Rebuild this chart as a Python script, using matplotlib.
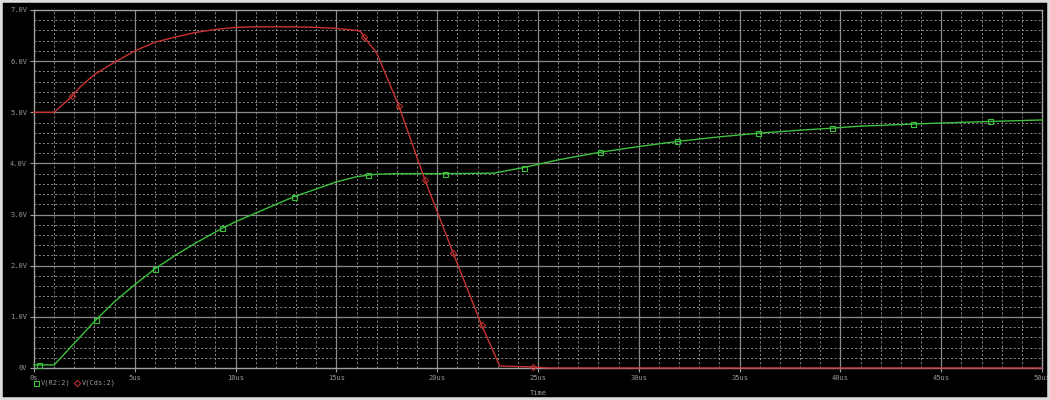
import matplotlib
matplotlib.use("Agg")
import matplotlib.pyplot as plt
from matplotlib.lines import Line2D
from matplotlib.patches import Rectangle
import numpy as np

# V(Cds:2) -- red trace
t_cds = [0, 1.0, 1.88, 2.3, 3, 4, 5, 6, 7, 8, 9, 10, 11, 12, 13, 14, 15, 16,
         16.2, 16.35, 17.0, 18.1, 19.4, 20.8, 22.2, 23.1, 24.75, 25.5, 50]
v_cds = [5.0, 5.0, 5.31, 5.5, 5.74, 5.98, 6.2, 6.37, 6.47, 6.56, 6.62, 6.66,
         6.67, 6.67, 6.67, 6.66, 6.64, 6.6, 6.58, 6.48, 6.16, 5.12, 3.67, 2.24,
         0.84, 0.04, 0.02, 0.0, 0.0]
cds_marks = [2, 19, 21, 22, 23, 24, 26]

# V(R2:2) -- green trace
t_r2 = [0, 0.25, 1.0, 3.07, 4, 5, 6.0, 7, 8, 9.33, 10, 11, 12, 12.9, 14, 15,
        16, 16.57, 17, 18, 20.4, 22.8, 24.3, 26, 28.1, 30, 31.9, 34, 35.9, 38,
        39.6, 41, 43.6, 45, 47.4, 50]
v_r2 = [0.06, 0.06, 0.06, 0.94, 1.3, 1.63, 1.94, 2.2, 2.44, 2.73, 2.86, 3.03,
        3.2, 3.35, 3.5, 3.64, 3.74, 3.77, 3.79, 3.80, 3.80, 3.81, 3.92, 4.07,
        4.22, 4.33, 4.43, 4.52, 4.59, 4.65, 4.69, 4.73, 4.77, 4.79, 4.82, 4.85]
r2_marks = [1, 3, 6, 9, 13, 17, 20, 22, 24, 26, 28, 30, 32, 34]

x_ticks = [0, 5, 10, 15, 20, 25, 30, 35, 40, 45, 50]
x_labels = ["0s", "5us", "10us", "15us", "20us", "25us", "30us", "35us",
            "40us", "45us", "50us"]
y_ticks = [0, 1, 2, 3, 4, 5, 6, 7]
y_labels = ["0V", "1.0V", "2.0V", "3.0V", "4.0V", "5.0V", "6.0V", "7.0V"]

FONT = 5.0
TXT = "#9a9a9a"

fig = plt.figure(figsize=(10.5, 4.0), dpi=100, facecolor="black")
ax = fig.add_axes([34/1050, 32/400, 1008/1050, 358/400])
ax.set_facecolor("black")

ax.set_xlim(0, 50)
ax.set_ylim(0, 7)

# grid
for xv in np.arange(1, 50, 1):
    if xv % 5 == 0:
        ax.axvline(xv, color="#8a8a8a", lw=0.9, zorder=1)
    else:
        ax.axvline(xv, color="#9c9c9c", lw=0.6, ls=(0, (2.5, 2.5)), zorder=1)
for yv in np.arange(0.2, 7.0, 0.2):
    if abs(yv - round(yv)) < 1e-6:
        ax.axhline(yv, color="#8a8a8a", lw=0.9, zorder=1)
    else:
        ax.axhline(yv, color="#9c9c9c", lw=0.6, ls=(0, (2.5, 2.5)), zorder=1)

ax.plot(t_r2, v_r2, color="#3cc23c", lw=1.0, zorder=3, clip_on=False,
        marker="s", markevery=r2_marks, markersize=3.6,
        markerfacecolor="none", markeredgecolor="#3cc23c", markeredgewidth=0.8)
ax.plot(t_cds, v_cds, color="#cc3333", lw=1.0, zorder=4, clip_on=False,
        marker="D", markevery=cds_marks, markersize=3.2,
        markerfacecolor="none", markeredgecolor="#cc3333", markeredgewidth=0.7)

for s in ax.spines.values():
    s.set_color("#a0a0a0")
    s.set_linewidth(1.0)
    s.set_zorder(2)

ax.set_xticks(x_ticks)
ax.set_xticklabels(x_labels)
ax.set_yticks(y_ticks)
ax.set_yticklabels(y_labels)
ax.tick_params(colors="#a0a0a0", labelcolor=TXT, labelsize=FONT,
               length=3, width=0.8, direction="out", pad=2)
for lab in ax.get_xticklabels() + ax.get_yticklabels():
    lab.set_family("DejaVu Sans Mono")

# legend below
fig.add_artist(Line2D([35.5/1050], [1 - 383/400], marker="s", markersize=3.6,
                      markerfacecolor="none", markeredgecolor="#3cc23c",
                      markeredgewidth=0.8, transform=fig.transFigure))
fig.text(41/1050, 1 - 383/400, "V(R2:2)", color=TXT, fontsize=FONT,
         family="DejaVu Sans Mono", va="center", ha="left")
fig.add_artist(Line2D([77/1050], [1 - 383/400], marker="D", markersize=3.2,
                      markerfacecolor="none", markeredgecolor="#cc3333",
                      markeredgewidth=0.7, transform=fig.transFigure))
fig.text(82/1050, 1 - 383/400, "V(Cds:2)", color=TXT, fontsize=FONT,
         family="DejaVu Sans Mono", va="center", ha="left")
fig.text(538/1050, 1 - 393/400, "Time", color=TXT, fontsize=FONT,
         family="DejaVu Sans Mono", va="center", ha="center")

# screenshot frame
fig.add_artist(Rectangle((0, 0), 1, 1, transform=fig.transFigure,
                         fill=False, edgecolor="#dcdcdc", lw=4))

fig.savefig("out.png", dpi=100, facecolor="black")
